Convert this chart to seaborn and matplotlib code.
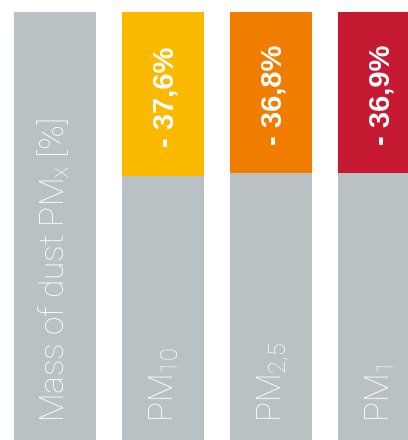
import pandas as pd
import matplotlib
matplotlib.use("Agg")
import matplotlib.pyplot as plt
import seaborn as sns

# Datos del grafico
categorias = ["Mass of dust PM$_x$ [%]", "PM$_{10}$", "PM$_{2{,}5}$", "PM$_1$"]
reduccion = [0.0, 37.6, 36.8, 36.9]
etiquetas_reduccion = ["", "- 37,6%", "- 36,8%", "- 36,9%"]
colores = ["#BAC1C4", "#FBB900", "#F07D00", "#C61A32"]
gris = "#BAC1C4"

df = pd.DataFrame({
    "categoria": categorias,
    "total": [100.0] * len(categorias),
    "resto": [100.0 - r for r in reduccion],
})

sns.set_style("white")
plt.rcParams["font.family"] = ["Roboto", "DejaVu Sans"]
plt.rcParams["mathtext.default"] = "regular"

fig = plt.figure(figsize=(4.08, 4.40), dpi=100)
ax = fig.add_axes([0, 0, 1, 1])

# Barras completas de color y luego la parte gris encima
sns.barplot(data=df, x="categoria", y="total", hue="categoria", palette=colores,
            saturation=1, width=0.76, legend=False, linewidth=0, ax=ax)
sns.barplot(data=df, x="categoria", y="resto", color=gris,
            saturation=1, width=0.76, linewidth=0, ax=ax)

# Etiquetas dentro de las barras
for i, cat in enumerate(categorias):
    off = 0.093 if i == 0 else 0.10
    ax.text(i + off, 6.2, cat, rotation=90, rotation_mode="anchor",
            ha="left", va="baseline", color="white", fontsize=24,
            fontweight="light")
    if etiquetas_reduccion[i]:
        medio = df["resto"][i] + reduccion[i] / 2 - 0.5
        ax.text(i + 0.10, medio, etiquetas_reduccion[i], rotation=90,
                rotation_mode="anchor", ha="center", va="baseline",
                color="white", fontsize=21, fontweight="bold",
                family=["Liberation Sans", "DejaVu Sans"])

ax.set_xlim(-0.509, 3.27)
ax.set_ylim(2.06, 102.75)
ax.axis("off")

fig.savefig("out.png", dpi=100)
